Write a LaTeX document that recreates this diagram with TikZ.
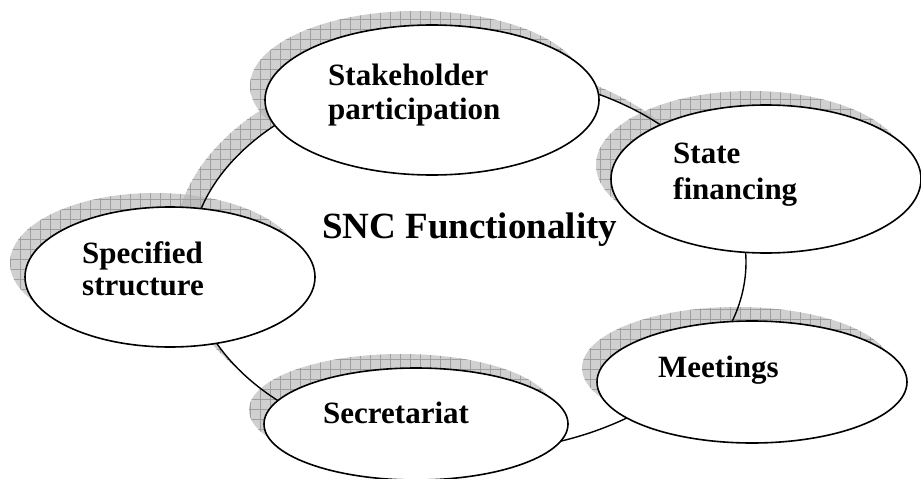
\documentclass[tikz,border=0pt]{standalone}
\usepackage{fontspec}
\setmainfont{Liberation Serif}
\usetikzlibrary{shapes.geometric,patterns.meta}
\tikzset{
  shadowfill/.style={fill=gray!60, fill opacity=0.6,
    postaction={pattern={Hatch[distance=10pt,line width=0.5pt]}, pattern color=gray!75, fill opacity=0.4}},
  oval/.style={ellipse, draw=black, fill=white, line width=1.6pt, inner sep=0pt},
  ring/.style={draw=black, line width=1.4pt},
  lbl/.style={anchor=base west, inner sep=0pt, font=\fontsize{31}{34}\selectfont\bfseries},
  maintitle/.style={anchor=base west, inner sep=0pt, font=\fontsize{37}{40}\selectfont\bfseries}
}
\begin{document}
\begin{tikzpicture}[x=1pt,y=-1pt]
\useasboundingbox[fill=white] (0,0) rectangle (921,479);
% big ring shadow and white body
\path[shadowfill] (452,248) ellipse [x radius=278pt, y radius=190pt];
\fill[white] (468,262) ellipse [x radius=278pt, y radius=190pt];
% shadows of the ovals
\path[shadowfill] (417,86) ellipse [x radius=167pt, y radius=75pt];
\path[shadowfill] (751,165) ellipse [x radius=155pt, y radius=74pt];
\path[shadowfill] (155,263) ellipse [x radius=145pt, y radius=70pt];
\path[shadowfill] (401,410) ellipse [x radius=152pt, y radius=56pt];
\path[shadowfill] (737,368) ellipse [x radius=155pt, y radius=61pt];
% ring line
\draw[ring] (468,262) ellipse [x radius=278pt, y radius=190pt];
% ovals
\node[oval, minimum width=334pt, minimum height=150pt] (stake) at (432,100) {};
\node[oval, minimum width=310pt, minimum height=148pt] (state) at (766,179) {};
\node[oval, minimum width=290pt, minimum height=140pt] (spec) at (170,277) {};
\node[oval, minimum width=304pt, minimum height=112pt] (secr) at (416,424) {};
\node[oval, minimum width=310pt, minimum height=122pt] (meet) at (752,382) {};
% texts
\node[lbl] (t1a) at (328,85) {Stakeholder};
\node[lbl] (t1b) at (328,119) {participation};
\node[lbl] (t2a) at (673,163) {State};
\node[lbl] (t2b) at (673,199) {financing};
\node[lbl] (t3a) at (82,263) {Specified};
\node[lbl] (t3b) at (82,295) {structure};
\node[lbl] (t4) at (323,423) {Secretariat};
\node[lbl] (t5) at (658,377) {Meetings};
\node[maintitle] (title) at (322,238) {SNC Functionality};
\end{tikzpicture}
\end{document}
